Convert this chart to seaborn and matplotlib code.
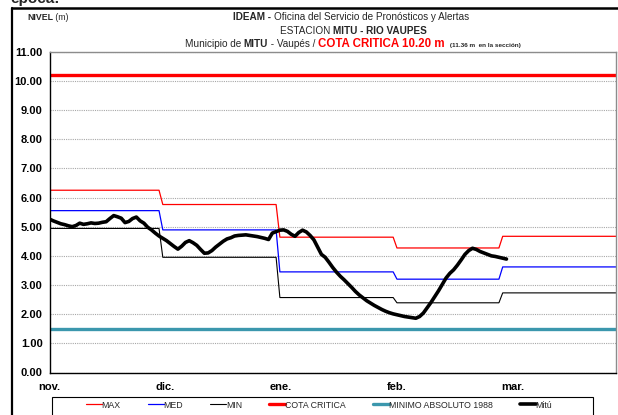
import numpy as np
import pandas as pd
import matplotlib
matplotlib.use("Agg")
import matplotlib.pyplot as plt
import seaborn as sns
from matplotlib import font_manager
from matplotlib.lines import Line2D
from matplotlib.patches import Rectangle

# ---- data -------------------------------------------------------------
month_labels = ["nov.", "dic.", "ene.", "feb.", "mar."]
month_start_day = [0, 30, 61, 92, 120]     # day 0 = 1 Nov
month_end_day = [29, 60, 91, 119, 150]

nivel_max = [6.25, 5.76, 4.64, 4.27, 4.67]
nivel_med = [5.55, 4.89, 3.45, 3.20, 3.62]
nivel_min = [4.94, 3.95, 2.57, 2.39, 2.73]
cota_critica = 10.20
minimo_absoluto_1988 = 1.48

# daily stage observed at Mitú (m), starting 1 Nov
mitu = [
    5.26, 5.20, 5.15, 5.10, 5.07, 5.03, 5.00, 5.04, 5.12, 5.08,
    5.10, 5.13, 5.11, 5.12, 5.15, 5.17, 5.28, 5.38, 5.34, 5.29,
    5.14, 5.18, 5.28, 5.33, 5.20, 5.12, 4.98, 4.89, 4.78, 4.68,
    4.60, 4.52, 4.42, 4.32, 4.23, 4.33, 4.46, 4.52, 4.45, 4.36,
    4.22, 4.09, 4.10, 4.18, 4.30, 4.40, 4.50, 4.58, 4.62, 4.68,
    4.70, 4.71, 4.72, 4.70, 4.68, 4.66, 4.63, 4.60, 4.56, 4.78,
    4.83, 4.88, 4.89, 4.84, 4.74, 4.67, 4.80, 4.88, 4.82, 4.70,
    4.55, 4.30, 4.05, 3.95, 3.78, 3.60, 3.44, 3.30, 3.18, 3.05,
    2.92, 2.78, 2.66, 2.56, 2.46, 2.38, 2.30, 2.23, 2.16, 2.10,
    2.05, 2.01, 1.98, 1.95, 1.92, 1.90, 1.88, 1.86, 1.92, 2.04,
    2.22, 2.40, 2.60, 2.80, 3.02, 3.24, 3.40, 3.52, 3.68, 3.86,
    4.05, 4.18, 4.26, 4.22, 4.15, 4.10, 4.05, 4.00, 3.98, 3.95,
    3.92, 3.89,
]

# ---- fonts ------------------------------------------------------------
sns.set_style("white")
_names = {f.name for f in font_manager.fontManager.ttflist}
NARROW = next((n for n in ["Liberation Sans Narrow", "Liberation Sans"] if n in _names), "DejaVu Sans")
WIDE = "Liberation Sans" if "Liberation Sans" in _names else "DejaVu Sans"
plt.rcParams["font.family"] = [WIDE, "DejaVu Sans"]
FAM = [NARROW, "DejaVu Sans"]


def monthly_steps(levels):
    xs, ys = [], []
    for s, e, v in zip(month_start_day, month_end_day, levels):
        xs += [s, e]
        ys += [v, v]
    return pd.DataFrame({"dia": xs, "nivel": ys})


df_max = monthly_steps(nivel_max)
df_med = monthly_steps(nivel_med)
df_min = monthly_steps(nivel_min)
x_end = month_end_day[-1]
df_cota = pd.DataFrame({"dia": [0, x_end], "nivel": [cota_critica] * 2})
df_minabs = pd.DataFrame({"dia": [0, x_end], "nivel": [minimo_absoluto_1988] * 2})
df_mitu = pd.DataFrame({"dia": np.arange(len(mitu)), "nivel": mitu})

W, H = 618, 415
fig = plt.figure(figsize=(W / 100, H / 100), dpi=100)
ax = fig.add_axes([49.5 / W, 1 - 372.5 / H, (616 - 49.5) / W, (372.5 - 51.7) / H])

kw = dict(x="dia", y="nivel", ax=ax, estimator=None, sort=False)
sns.lineplot(data=df_max, color="#ff0000", lw=0.9, label="MAX", **kw)
sns.lineplot(data=df_med, color="#0000ff", lw=0.9, label="MED", **kw)
sns.lineplot(data=df_min, color="#000000", lw=0.8, label="MIN", **kw)
sns.lineplot(data=df_cota, color="#ff0000", lw=2.4, label="COTA CRITICA", **kw)
sns.lineplot(data=df_minabs, color="#3b97ad", lw=2.4, label="MINIMO ABSOLUTO 1988", **kw)
sns.lineplot(data=df_mitu, color="#000000", lw=2.6, label="Mitú", **kw)

handles, labels = ax.get_legend_handles_labels()
ax.get_legend().remove()

# ---- axes -------------------------------------------------------------
ax.set_xlim(0, x_end)
ax.set_ylim(0, 11)
ax.set_xlabel("")
ax.set_ylabel("")
ax.set_yticks(np.arange(0, 12, 1))
ax.set_yticklabels([f"{v:.2f}" for v in np.arange(0, 12, 1)], fontweight="bold", fontsize=8)
ax.set_xticks(np.arange(len(month_labels)) * 30.67)
ax.set_xticklabels(month_labels, fontweight="bold", fontsize=8)
ax.tick_params(axis="y", direction="out", length=3, width=0.8, pad=2, colors="black")
ax.tick_params(axis="x", direction="inout", length=4, width=0.8, pad=5, colors="black")
ax.yaxis.grid(True, color="#a8a8a8", linestyle=(0, (1, 1)), lw=0.8)
ax.set_axisbelow(True)
for side in ("left", "bottom"):
    ax.spines[side].set_color("black")
    ax.spines[side].set_linewidth(1.0)
for side in ("top", "right"):
    ax.spines[side].set_color("#8c8c8c")
    ax.spines[side].set_linewidth(1.0)

# ---- titles -----------------------------------------------------------
renderer = fig.canvas.get_renderer()


def text_run(pieces, xc_px, y_px):
    """Draw consecutive text pieces with their own styles, centred at xc_px."""
    objs = []
    for s, props in pieces:
        t = fig.text(0, 1 - y_px / H, s, ha="left", va="baseline", **props)
        objs.append(t)
    widths = [t.get_window_extent(renderer).width for t in objs]
    x = xc_px - sum(widths) / 2
    for t, w in zip(objs, widths):
        t.set_x(x / W)
        x += w


reg = dict(family=FAM, fontsize=7.2)
bold = dict(family=FAM, fontsize=7.2, fontweight="bold")
text_run([("IDEAM - ", bold), ("Oficina del Servicio de Pronósticos y Alertas", reg)], 351, 20)
text_run([("ESTACION ", reg), ("MITU - RIO VAUPES", bold)], 353, 34)
text_run([("Municipio de ", reg), ("MITU", bold), (" - Vaupés / ", reg),
          ("COTA CRITICA 10.20 m ", dict(family=FAM, fontsize=8.3, fontweight="bold",
                                          color="#ff0000")),
          (" (11.36 m  en la sección)", dict(family=FAM, fontsize=4.6, fontweight="bold"))],
         353, 47)
text_run([("NIVEL", dict(family=FAM, fontsize=6.3, fontweight="bold")),
          (" (m)", dict(family=FAM, fontsize=6.3))], 48, 20)

fig.text(10 / W, 1 - 3 / H, "época:", fontsize=11, fontweight="bold", va="baseline", ha="left")

# ---- frame and legend -------------------------------------------------
fig.add_artist(Line2D([11.5 / W, 11.5 / W], [1 - 8 / H, 0], color="black", lw=1.6,
                      transform=fig.transFigure))
fig.add_artist(Line2D([11.5 / W, 1], [1 - 8 / H, 1 - 8 / H], color="black", lw=1.8,
                      transform=fig.transFigure))
fig.add_artist(Rectangle((52 / W, 1 - 425 / H), (593 - 52) / W, (425 - 396.7) / H,
                         transform=fig.transFigure, fill=False, ec="black", lw=0.8))
fig.legend(handles, labels, ncol=6, loc="center", bbox_to_anchor=(319 / W, 1 - 405 / H),
           frameon=False, handlelength=1.8, handletextpad=0.0, columnspacing=3.1,
           prop=dict(family=FAM, size=6.3))

fig.savefig("out.png", dpi=100)
